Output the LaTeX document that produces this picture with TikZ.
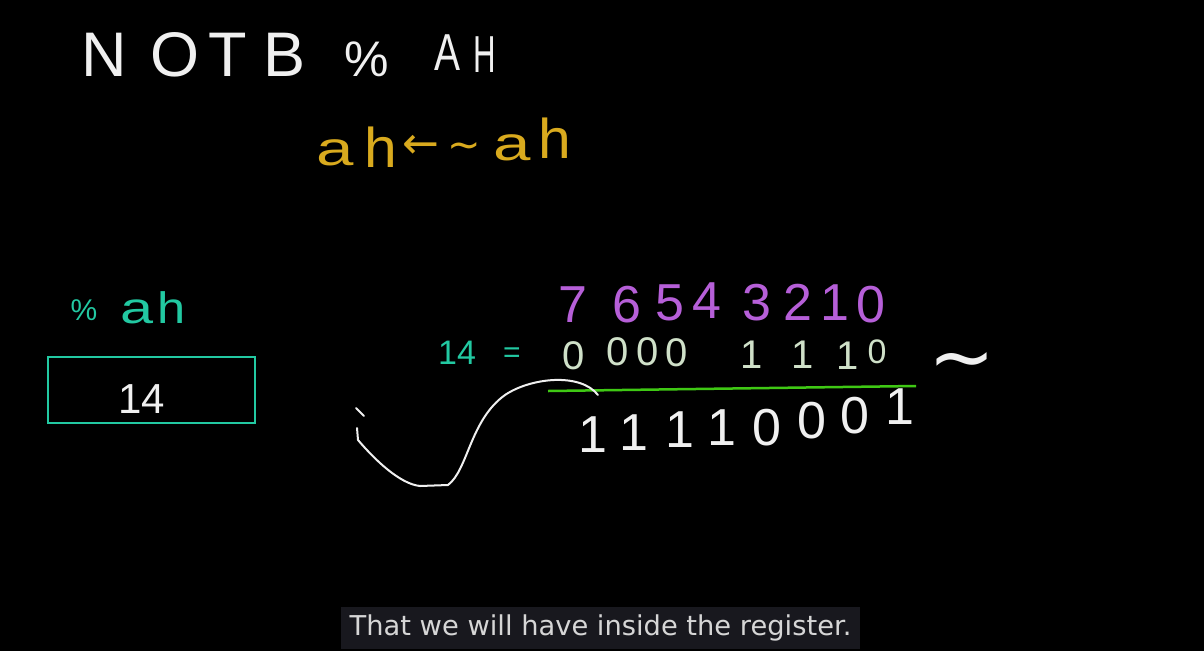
\documentclass[tikz,border=0pt]{standalone}
\usepackage{fontspec}
\setmainfont{Liberation Sans}
\newfontfamily\djv{DejaVu Sans}
\definecolor{chalk}{HTML}{F0F0F0}
\definecolor{yell}{HTML}{D9AA1E}
\definecolor{teal2}{HTML}{22C9A2}
\definecolor{purp}{HTML}{B65FD8}
\definecolor{pale}{HTML}{CFE0C8}
\definecolor{lgreen}{HTML}{3FC814}
\definecolor{subbg}{HTML}{18181E}
\definecolor{subtx}{HTML}{D6D6D6}
\tikzset{
  ch/.style={anchor=base, inner sep=0pt, text=chalk},
  title/.style={ch, font=\fontsize{63}{63}\selectfont},
  yl/.style={anchor=base, inner sep=0pt, text=yell, font=\fontsize{48}{48}\selectfont},
  tl/.style={anchor=base, inner sep=0pt, text=teal2},
  wide/.style={xscale=#1, transform shape},
  bitidx/.style={anchor=base, inner sep=0pt, text=purp, font=\fontsize{52}{52}\selectfont},
  bitval/.style={anchor=base, inner sep=0pt, text=pale, font=\fontsize{40}{40}\selectfont},
  res/.style={ch, font=\fontsize{52}{52}\selectfont},
  stroke/.style={draw=chalk, line width=2pt, line cap=round, line join=round}
}
\begin{document}
\begin{tikzpicture}[x=1pt,y=-1pt]
\fill[black] (0,0) rectangle (1204,651);
\useasboundingbox (0,0) rectangle (1204,651);
% title
\node[title] (tN) at (104,76) {N};
\node[title] (tO) at (175,76) {O};
\node[title] (tT) at (228,76) {T};
\node[title] (tB) at (285,76) {B};
\node[title, font=\fontsize{50}{50}\selectfont] (tP) at (367,76) {\%};
\node[title, font=\fontsize{52}{52}\selectfont, wide=0.75] (tA) at (447,70) {A};
\node[title, font=\fontsize{52}{52}\selectfont, wide=0.6] (tH) at (485,72) {H};
% ah <- ~ah
\node[yl, wide=1.4] (y1) at (335,165) {a};
\node[yl, font=\fontsize{56}{56}\selectfont, wide=1.05] (y2) at (381,167) {h};
\node[yl, font=\djv\fontsize{44}{44}\selectfont] (y3) at (421,158) {←};
\node[yl, font=\djv\fontsize{40}{40}\selectfont] (y4) at (464,158) {\char"007E};
\node[yl, wide=1.4] (y5) at (512,160) {a};
\node[yl, font=\fontsize{56}{56}\selectfont, wide=1.05] (y6) at (555,158) {h};
% %ah and box
\node[tl, font=\fontsize{30}{30}\selectfont] (pc) at (84,320) {\%};
\node[tl, font=\fontsize{44}{44}\selectfont, wide=1.35] (pa) at (137,323) {a};
\node[tl, font=\fontsize{44}{44}\selectfont, wide=1.15] (ph) at (172,323) {h};
\node[draw=teal2, line width=2.2pt, minimum width=207pt, minimum height=66pt, inner sep=0pt] (box) at (151.5,390) {};
\node[ch, font=\fontsize{42}{42}\selectfont] (v14) at (142,413) {14};
% bit indices
\node[bitidx] (i7) at (573,322) {7};
\node[bitidx] (i6) at (627,322) {6};
\node[bitidx] (i5) at (670,320) {5};
\node[bitidx] (i4) at (707,318) {4};
\node[bitidx] (i3) at (757,320) {3};
\node[bitidx] (i2) at (798,320) {2};
\node[bitidx] (i1) at (835,320) {1};
\node[bitidx] (i0) at (871,322) {0};
% 14 =
\node[tl, font=\fontsize{34}{34}\selectfont] (e14) at (457,364) {14};
\node[tl, font=\fontsize{30}{30}\selectfont] (eq) at (512,362) {=};
% bits
\node[bitval] (b7) at (574,369) {0};
\node[bitval] (b6) at (618,365) {0};
\node[bitval] (b5) at (648,365) {0};
\node[bitval] (b4) at (677,366) {0};
\node[bitval] (b3) at (752,368) {1};
\node[bitval] (b2) at (803,368) {1};
\node[bitval] (b1) at (848,369) {1};
\node[bitval, font=\fontsize{34}{34}\selectfont] (b0) at (877,363) {0};
\node[ch, font=\djv\fontsize{80}{80}\selectfont] (tilde) at (962,384) {∼};
% green rule
\coordinate (gl) at (548,391);
\coordinate (gr) at (916,386);
\draw[lgreen, line width=2.5pt] (gl) -- (gr);
% result
\node[res] (r7) at (593,452) {1};
\node[res] (r6) at (634,450) {1};
\node[res] (r5) at (680,447) {1};
\node[res] (r4) at (722,445) {1};
\node[res] (r3) at (767,445) {0};
\node[res] (r2) at (812,438) {0};
\node[res] (r1) at (855,433) {0};
\node[res] (r0) at (900,424) {1};
% hand stroke
\coordinate (tk1) at (356,408);
\coordinate (tk2) at (364,416);
\draw[stroke] (tk1) -- (tk2);
\coordinate (c0) at (357,428);
\coordinate (c1) at (358,440);
\coordinate (c2) at (420,486);
\coordinate (c3) at (448,485);
\coordinate (c4) at (505,395);
\coordinate (c5) at (598,395);
\draw[stroke] (c0) -- (c1) .. controls (375,460) and (400,484) .. (c2) -- (c3)
  .. controls (468,470) and (470,420) .. (c4) .. controls (530,378) and (580,372) .. (c5);
% subtitle
\node[fill=subbg, text=subtx, inner xsep=5pt, inner ysep=6pt, font=\djv\fontsize{27.3}{27.3}\selectfont, minimum width=519pt, minimum height=42pt] (sub) at (600.5,628) {That we will have inside the register.};
\end{tikzpicture}
\end{document}
